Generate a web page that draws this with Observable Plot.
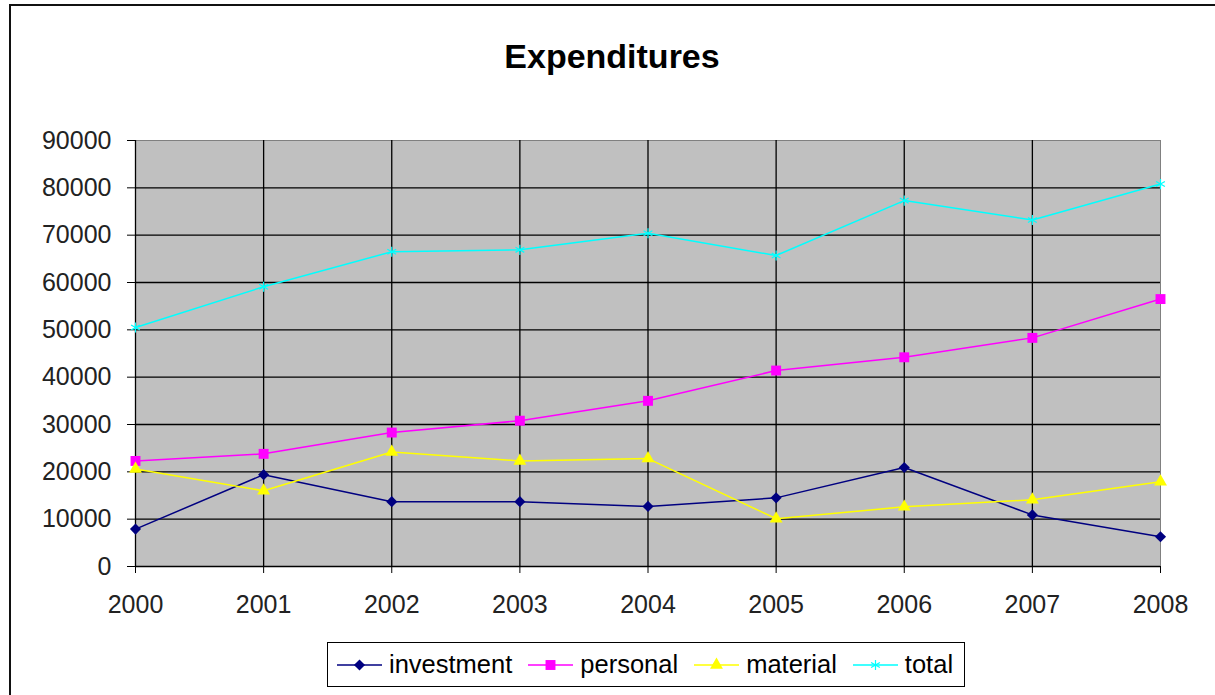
<!DOCTYPE html>
<html>
<head>
<meta charset="utf-8">
<script src="https://cdn.jsdelivr.net/npm/d3@7"></script>
<script src="https://cdn.jsdelivr.net/npm/@observablehq/plot@0.6"></script>
<style>
  html, body { margin: 0; padding: 0; background: #fff; overflow: hidden; }
  #wrap { position: relative; width: 1215px; height: 695px; font-family: "Liberation Sans", Arial, sans-serif; }
  #border { position: absolute; left: 9px; top: 4px; width: 1300px; height: 800px; border: 2px solid #111; box-sizing: border-box; }
  #title { position: absolute; left: 412px; width: 400px; top: 39px; text-align: center; font-size: 34px; line-height: 34px; font-weight: bold; color: #000; }
  #chart { position: absolute; left: 0; top: 0; }
  #legend { position: absolute; left: 327px; top: 642px; width: 638px; height: 45px; border: 1px solid #000; box-sizing: border-box; background: #fff; display: flex; align-items: center; padding-left: 9px; font-size: 25.5px; color: #000; }
  .item { display: flex; align-items: center; margin-right: 16px; }
  .item svg { margin-right: 7px; }
</style>
</head>
<body>
<div id="wrap">
  <div id="border"></div>
  <div id="chart"></div>
  <div id="title">Expenditures</div>
  <div id="legend"></div>
</div>
<script>
const years = [2000, 2001, 2002, 2003, 2004, 2005, 2006, 2007, 2008];
const investment = [7900, 19400, 13700, 13700, 12700, 14500, 20900, 10900, 6300];
const personal = [22300, 23800, 28300, 30800, 35000, 41400, 44200, 48300, 56500];
const material = [20600, 16000, 24200, 22300, 22800, 10100, 12600, 14100, 17900];
const total = [50500, 59100, 66500, 66900, 70400, 65700, 77300, 73200, 80800];
const yTicks = [0, 10000, 20000, 30000, 40000, 50000, 60000, 70000, 80000, 90000];

const seriesNames = ["investment", "personal", "material", "total"];
const seriesValues = [investment, personal, material, total];
const colors = ["#000080", "#ff00ff", "#ffff00", "#00ffff"];
const symbols = ["diamond2", "square", "triangle", "asterisk"];
const radii = [5, 5.6, 4.8, 4.8];

const rows = [];
seriesNames.forEach((name, i) => {
  years.forEach((yr, j) => rows.push({series: name, year: yr, value: seriesValues[i][j]}));
});

const innerY = yTicks.filter(v => v > 0 && v < 90000);
const innerX = years.filter(v => v > years[0] && v < years[years.length - 1]);

const marks = [
  Plot.frame({fill: "#c0c0c0", stroke: "#808080"}),
  Plot.ruleY(innerY, {stroke: "#000", strokeWidth: 1.3}),
  Plot.ruleX(innerX, {stroke: "#000", strokeWidth: 1.3}),
  Plot.ruleY([0], {stroke: "#000", strokeWidth: 1.3}),
  Plot.ruleX([years[0]], {stroke: "#000", strokeWidth: 1.3}),
  Plot.axisY({ticks: yTicks, tickSize: 8, tickPadding: 16, tickFormat: d => String(d), label: null, stroke: "#000", fill: "#222"}),
  Plot.axisX({ticks: years, tickSize: 7, tickPadding: 22, tickFormat: d => String(d), label: null, stroke: "#000", fill: "#222"})
];
seriesNames.forEach((name, i) => {
  const data = rows.filter(r => r.series === name);
  marks.push(Plot.line(data, {x: "year", y: "value", stroke: colors[i], strokeWidth: 1.5}));
  if (symbols[i] === "asterisk") {
    marks.push(Plot.dot(data, {x: "year", y: "value", symbol: symbols[i], r: radii[i], stroke: colors[i], strokeWidth: 1.2, fill: "none"}));
  } else {
    marks.push(Plot.dot(data, {x: "year", y: "value", symbol: symbols[i], r: radii[i], fill: colors[i], stroke: "none"}));
  }
});

const chart = Plot.plot({
  width: 1215,
  height: 695,
  marginLeft: 135,
  marginRight: 55,
  marginTop: 140,
  marginBottom: 129,
  style: {fontFamily: "'Liberation Sans', Arial, sans-serif", fontSize: "25px", background: "transparent", color: "#000", overflow: "visible"},
  x: {domain: [years[0], years[years.length - 1]], type: "linear"},
  y: {domain: [0, 90000]},
  marks
});
document.getElementById("chart").appendChild(chart);

// legend
const legend = document.getElementById("legend");
const symGen = {diamond2: d3.symbolDiamond2, square: d3.symbolSquare, triangle: d3.symbolTriangle, asterisk: d3.symbolAsterisk};
seriesNames.forEach((name, i) => {
  const item = document.createElement("div");
  item.className = "item";
  const svg = d3.create("svg").attr("width", 45).attr("height", 20);
  svg.append("line").attr("x1", 0).attr("x2", 45).attr("y1", 10).attr("y2", 10).attr("stroke", colors[i]).attr("stroke-width", 1.5);
  const path = d3.symbol(symGen[symbols[i]], Math.PI * radii[i] * radii[i])();
  const p = svg.append("path").attr("d", path).attr("transform", "translate(22.5,10)");
  if (symbols[i] === "asterisk") p.attr("fill", "none").attr("stroke", colors[i]).attr("stroke-width", 1.2);
  else p.attr("fill", colors[i]);
  item.appendChild(svg.node());
  const t = document.createElement("span");
  t.textContent = name;
  item.appendChild(t);
  legend.appendChild(item);
});
</script>
</body>
</html>
